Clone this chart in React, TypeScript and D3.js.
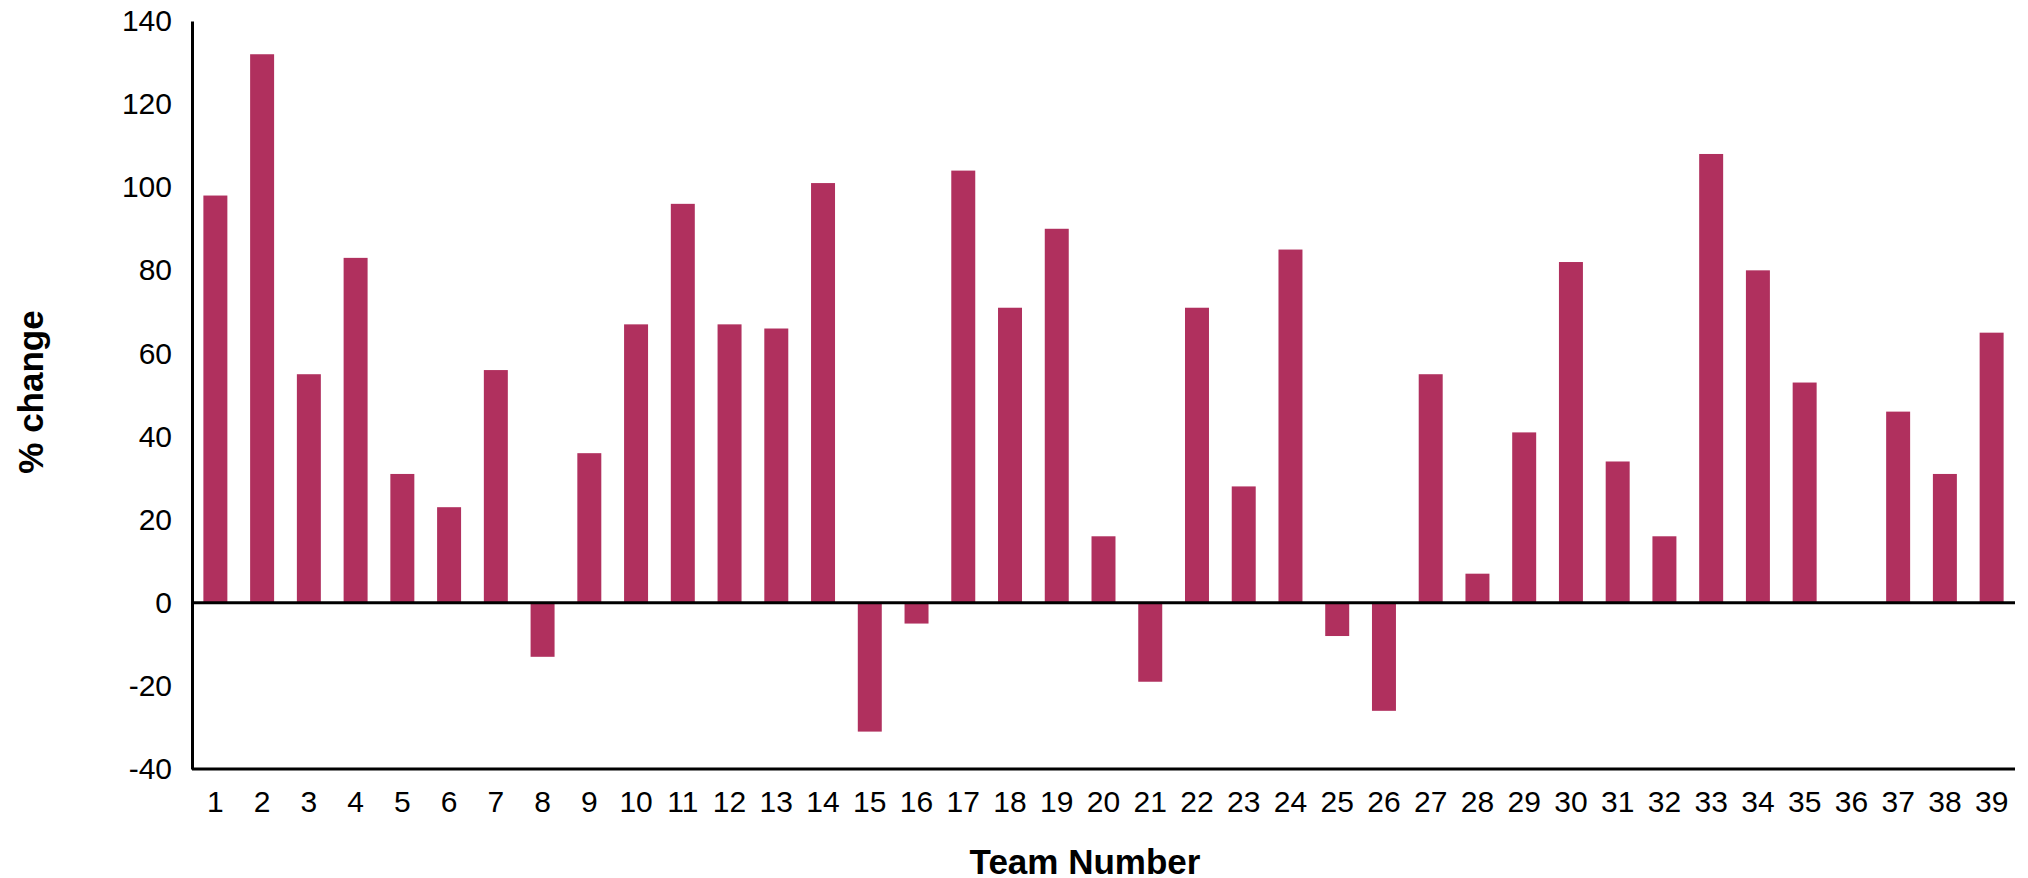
import { useEffect, useRef } from "react";
import * as d3 from "d3";

// team numbers along the x axis
const teams: string[] = Array.from({ length: 39 }, (_, i) => String(i + 1));

// % change per team (team 36 has no bar)
const changes: number[] = [
  98, 132, 55, 83, 31, 23, 56, -13, 36, 67,
  96, 67, 66, 101, -31, -5, 104, 71, 90, 16,
  -19, 71, 28, 85, -8, -26, 55, 7, 41, 82,
  34, 16, 108, 80, 53, 0, 46, 31, 65,
];

const yTicks: number[] = [-40, -20, 0, 20, 40, 60, 80, 100, 120, 140];

export default function App() {
  const ref = useRef<SVGSVGElement>(null);

  useEffect(() => {
    const width = 2028;
    const height = 878;
    const margin = { top: 21, right: 13, bottom: 110, left: 192 };
    const font = "Liberation Sans, Arial, sans-serif";

    const svg = d3.select(ref.current);
    svg.selectAll("*").remove();
    svg.attr("width", width).attr("height", height);

    const x = d3
      .scaleBand()
      .domain(teams)
      .range([margin.left, width - margin.right])
      .paddingInner(0.487)
      .paddingOuter(0.2435);

    const y = d3
      .scaleLinear()
      .domain([-40, 140])
      .range([height - margin.bottom + 1, margin.top]);

    const data = teams.map((t, i) => ({ team: t, value: changes[i] }));

    // bars
    svg
      .append("g")
      .selectAll("rect")
      .data(data.filter((d) => d.value !== 0))
      .enter()
      .append("rect")
      .attr("x", (d) => x(d.team)!)
      .attr("y", (d) => y(Math.max(0, d.value)))
      .attr("width", x.bandwidth())
      .attr("height", (d) => Math.abs(y(d.value) - y(0)))
      .attr("fill", "#b0305e");

    // zero line
    svg
      .append("line")
      .attr("x1", margin.left)
      .attr("x2", width - margin.right)
      .attr("y1", y(0))
      .attr("y2", y(0))
      .attr("stroke", "#000")
      .attr("stroke-width", 3);

    // y axis
    const yAxis = svg
      .append("g")
      .attr("transform", `translate(${margin.left},0)`)
      .call(
        d3
          .axisLeft(y)
          .tickValues(yTicks)
          .tickFormat((d) => String(d))
          .tickSize(0)
          .tickPadding(20)
      );
    yAxis.select(".domain").attr("stroke", "#000").attr("stroke-width", 3);
    yAxis
      .selectAll("text")
      .attr("font-family", font)
      .attr("font-size", 30)
      .attr("fill", "#000");

    // x axis at the bottom (-40)
    const xAxis = svg
      .append("g")
      .attr("transform", `translate(0,${y(-40)})`)
      .call(d3.axisBottom(x).tickSize(0).tickPadding(22));
    xAxis
      .select(".domain")
      .attr("d", `M${margin.left},0H${width - margin.right}`)
      .attr("stroke", "#000")
      .attr("stroke-width", 3);
    xAxis
      .selectAll("text")
      .attr("font-family", font)
      .attr("font-size", 30)
      .attr("fill", "#000");

    // axis titles
    svg
      .append("text")
      .attr("x", 1085)
      .attr("y", 874)
      .attr("text-anchor", "middle")
      .attr("font-family", font)
      .attr("font-weight", "bold")
      .attr("font-size", 35)
      .text("Team Number");

    svg
      .append("text")
      .attr("transform", `translate(43,392) rotate(-90)`)
      .attr("text-anchor", "middle")
      .attr("font-family", font)
      .attr("font-weight", "bold")
      .attr("font-size", 35)
      .text("% change");
  }, []);

  return (
    <div style={{ position: "absolute", left: 0, top: 0 }}>
      <svg ref={ref} style={{ display: "block" }}></svg>
    </div>
  );
}
